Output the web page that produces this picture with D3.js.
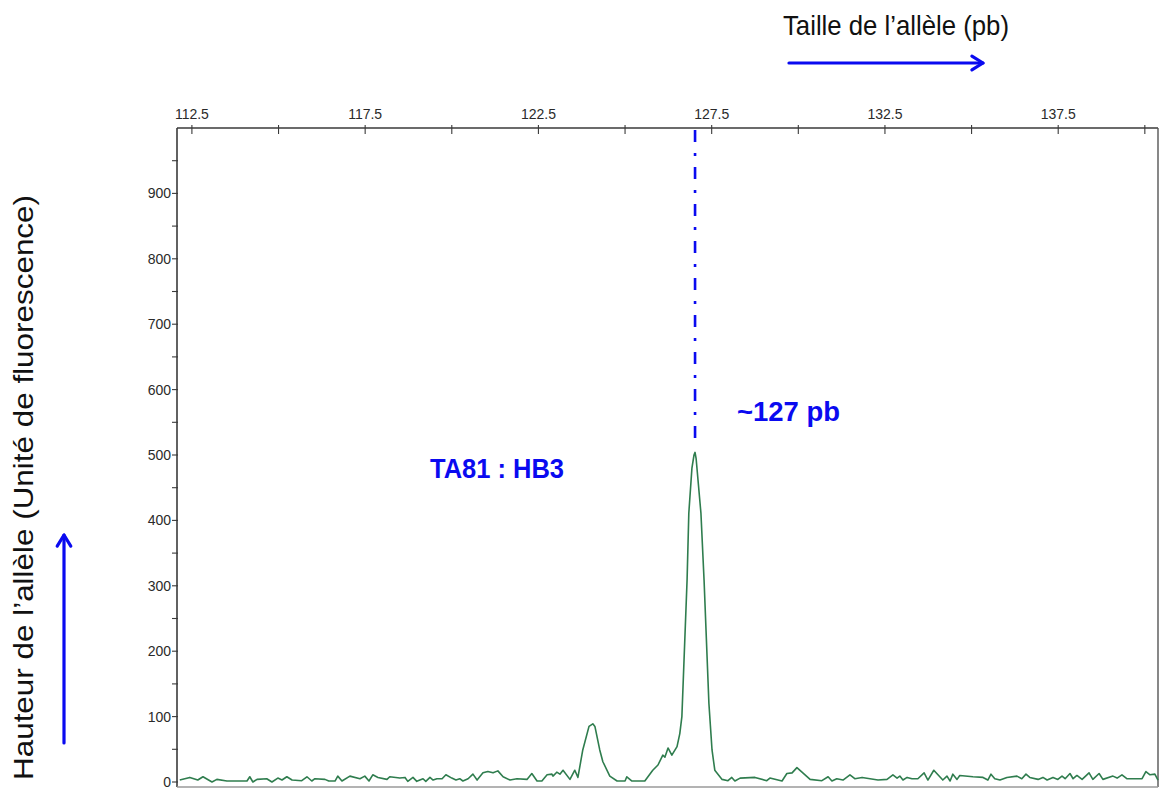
<!DOCTYPE html>
<html>
<head>
<meta charset="utf-8">
<script src="https://cdn.jsdelivr.net/npm/d3@7"></script>
<style>
  html, body { margin: 0; padding: 0; background: #fff; }
  svg { display: block; }
</style>
</head>
<body>
<svg id="chart" width="1161" height="789"></svg>
<script>
// ---- Data (size in bp, height in fluorescence units) ----
const sizeBp = [112.15,112.44,112.67,112.82,113.08,113.22,113.51,114.09,114.17,114.26,114.38,114.66,114.81,114.98,115.10,115.24,115.39,115.67,115.82,115.96,116.05,116.34,116.45,116.63,116.71,116.83,117.06,117.35,117.49,117.61,117.72,117.87,118.13,118.21,118.50,118.65,118.73,118.88,118.99,119.17,119.25,119.37,119.46,119.57,119.72,119.83,120.00,120.12,120.23,120.32,120.47,120.61,120.73,120.90,121.04,121.19,121.33,121.48,121.68,121.88,122.17,122.31,122.46,122.60,122.75,122.89,122.92,123.03,123.12,123.21,123.41,123.55,123.64,123.78,123.96,124.07,124.13,124.27,124.36,124.56,124.77,125.00,125.05,125.20,125.57,125.80,125.95,126.09,126.15,126.24,126.35,126.50,126.58,126.64,126.79,126.84,126.93,126.99,127.02,127.05,127.19,127.28,127.42,127.51,127.59,127.80,127.97,128.08,128.17,128.32,128.75,129.09,129.18,129.53,129.67,129.82,129.96,130.13,130.34,130.68,130.86,130.97,131.11,131.29,131.49,131.63,131.84,132.07,132.30,132.56,132.73,132.85,132.93,133.02,133.14,133.28,133.45,133.63,133.74,133.91,134.03,134.17,134.29,134.38,134.46,134.58,134.66,135.04,135.33,135.47,135.56,135.67,135.82,136.02,136.31,136.45,136.57,136.68,136.92,137.06,137.18,137.35,137.49,137.61,137.70,137.84,137.93,138.04,138.19,138.39,138.50,138.68,138.79,139.08,139.20,139.34,139.48,139.92,140.03,140.15,140.29,140.38];
const height = [3,7,3,8,0,4,1.5,1.5,8,0,4,5,0,6,3,8,3,2,8,1.5,5,4,1.5,1.5,9,1.5,9,5,9,1.5,11,7,4,8,6,7,1,7,1,5,1,7,3,5,5,11,6,3,5,1.5,5,12,3,14,16,14,17,8,3,5,4,13,1.5,1.5,11,12,9,15,12,18,4,18,7,49,85,89,85,49,31,9,1.5,1.5,8,1.5,1.5,18,26,41,38,52,41,54,74,100,309,411,480,500,504,495,411,309,120,49,18,4,2,7,1.5,6,7,2,6,1.5,13,14,22,14,4,2,8,1.5,5,3,11,5,7,5,3,4,11,6,9,3,7,5,5,14,3,18,11,3,9,1.5,12,4,10,8,7,3,12,5,3,7,9,5,12,7,4,7,3,7,4,9,5,13,5,10,4,14,4,13,4,9,6,11,5,5,16,11,12,3];

const xTicksMajor = [112.5, 117.5, 122.5, 127.5, 132.5, 137.5];
const xTicksMinor = [115, 120, 125, 130, 135, 140];
const yTicksMajor = [0, 100, 200, 300, 400, 500, 600, 700, 800, 900];
const yTicksMinor = [50, 150, 250, 350, 450, 550, 650, 750, 850, 950];

const peakSize = 127.02;
const peakHeight = 504;
const xTitle = "Taille de l\u2019allèle (pb)";
const yTitle = "Hauteur de l\u2019allèle (Unité  de fluorescence)";
const markerLabel = "TA81 : HB3";
const peakLabel = "~127 pb";

// ---- Layout ----
const plotL = 177, plotR = 1158, plotT = 128, zeroY = 782, plotB = 787;
const svg = d3.select("#chart");

const x = d3.scaleLinear().domain([112.07, 140.38]).range([plotL, plotR]);
const y = d3.scaleLinear().domain([0, 1000]).range([zeroY, plotT]);

const blue = "#0a0af0";
const axisCol = "#3a3a3a";
const font = "'Liberation Sans', Arial, sans-serif";

// frame
svg.append("line").attr("x1", plotL).attr("x2", plotR).attr("y1", plotT).attr("y2", plotT)
  .attr("stroke", axisCol).attr("stroke-width", 1.6);
svg.append("line").attr("x1", plotL).attr("x2", plotL).attr("y1", plotT).attr("y2", plotB)
  .attr("stroke", axisCol).attr("stroke-width", 1.6);
svg.append("line").attr("x1", plotR).attr("x2", plotR).attr("y1", plotT).attr("y2", plotB)
  .attr("stroke", "#555").attr("stroke-width", 1.4);
svg.append("line").attr("x1", plotL).attr("x2", plotR).attr("y1", plotB).attr("y2", plotB)
  .attr("stroke", "#9a9a9a").attr("stroke-width", 1.4);

// top axis ticks
const xt = svg.append("g");
xt.selectAll("line").data(xTicksMajor.concat(xTicksMinor)).join("line")
  .attr("x1", d => x(d)).attr("x2", d => x(d))
  .attr("y1", plotT - 3).attr("y2", plotT + 6)
  .attr("stroke", axisCol).attr("stroke-width", 1.1);
xt.selectAll("text").data(xTicksMajor).join("text")
  .attr("x", d => x(d)).attr("y", plotT - 9)
  .attr("text-anchor", "middle")
  .attr("font-family", font).attr("font-size", 14).attr("fill", "#2a2a2a")
  .text(d => d3.format(".1f")(d));

// left axis ticks
const yt = svg.append("g");
yt.selectAll("line").data(yTicksMajor.concat(yTicksMinor)).join("line")
  .attr("x1", plotL - 5).attr("x2", plotL + 1)
  .attr("y1", d => y(d)).attr("y2", d => y(d))
  .attr("stroke", axisCol).attr("stroke-width", 1.1);
yt.selectAll("text").data(yTicksMajor).join("text")
  .attr("x", plotL - 6).attr("y", d => y(d)).attr("dy", "0.36em")
  .attr("text-anchor", "end")
  .attr("font-family", font).attr("font-size", 14).attr("fill", "#2a2a2a")
  .text(d => d);

// trace
const pts = sizeBp.map((s, i) => [s, height[i]]);
const line = d3.line().x(d => x(d[0])).y(d => y(d[1]));
svg.append("path").datum(pts)
  .attr("d", line)
  .attr("fill", "none")
  .attr("stroke", "#2f7d4e")
  .attr("stroke-width", 1.6)
  .attr("stroke-linejoin", "round");

// dash-dot marker line at peak
svg.append("line")
  .attr("x1", x(peakSize)).attr("x2", x(peakSize))
  .attr("y1", plotT + 2).attr("y2", y(peakHeight) - 8)
  .attr("stroke", blue).attr("stroke-width", 2.6)
  .attr("stroke-dasharray", "12,11,3,11");

// annotations
svg.append("text")
  .attr("x", 430).attr("y", 478)
  .attr("font-family", font).attr("font-weight", "bold").attr("font-size", 28)
  .attr("fill", blue)
  .attr("textLength", 134).attr("lengthAdjust", "spacingAndGlyphs")
  .text(markerLabel);
svg.append("text")
  .attr("x", 737).attr("y", 421)
  .attr("font-family", font).attr("font-weight", "bold").attr("font-size", 28)
  .attr("fill", blue)
  .attr("textLength", 103).attr("lengthAdjust", "spacingAndGlyphs")
  .text(peakLabel);

// axis titles
svg.append("text")
  .attr("x", 783).attr("y", 35)
  .attr("font-family", font).attr("font-size", 28).attr("fill", "#111")
  .attr("textLength", 226).attr("lengthAdjust", "spacingAndGlyphs")
  .text(xTitle);
svg.append("text")
  .attr("transform", "translate(33,780) rotate(-90)")
  .attr("font-family", font).attr("font-size", 28).attr("fill", "#111")
  .attr("textLength", 585).attr("lengthAdjust", "spacingAndGlyphs")
  .text(yTitle);

// arrows
function arrow(x1, y1, x2, y2) {
  const g = svg.append("g").attr("stroke", blue).attr("stroke-width", 3.2)
    .attr("fill", "none").attr("stroke-linecap", "round").attr("stroke-linejoin", "round");
  g.append("line").attr("x1", x1).attr("y1", y1).attr("x2", x2).attr("y2", y2);
  const ang = Math.atan2(y2 - y1, x2 - x1), L = 13, a = 0.55;
  g.append("path").attr("d",
    `M${x2 - L * Math.cos(ang - a)},${y2 - L * Math.sin(ang - a)} L${x2},${y2} L${x2 - L * Math.cos(ang + a)},${y2 - L * Math.sin(ang + a)}`);
}
arrow(789, 63, 983, 63);
arrow(64, 743, 64, 535);
</script>
</body>
</html>
